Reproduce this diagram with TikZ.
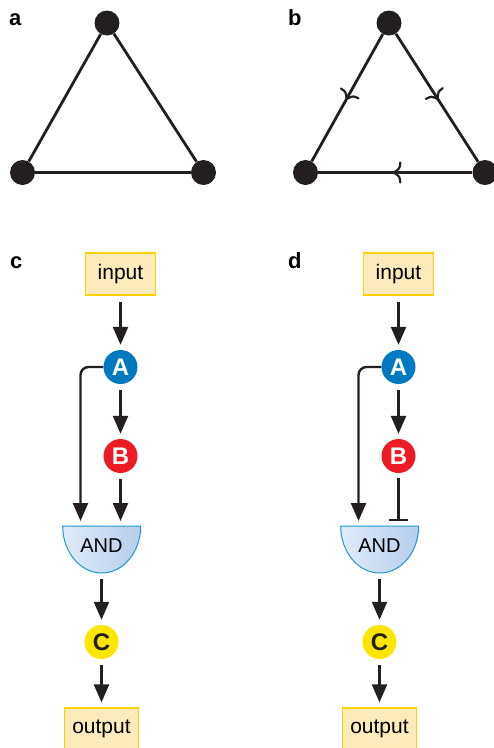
\documentclass[tikz,border=0pt]{standalone}
\usepackage{fontspec}
\setmainfont{Liberation Sans}
\usetikzlibrary{arrows.meta,decorations.markings,backgrounds}

\definecolor{cdark}{RGB}{35, 31, 32}
\definecolor{cblu}{RGB}{0, 121, 193}
\definecolor{cred}{RGB}{237, 28, 36}
\definecolor{cyel}{RGB}{255, 230, 0}
\definecolor{cbox}{RGB}{253, 235, 188}
\definecolor{cboxl}{RGB}{255, 210, 0}
\definecolor{candl}{RGB}{224, 235, 248}
\definecolor{candr}{RGB}{182, 206, 235}
\definecolor{candb}{RGB}{30, 150, 210}

\tikzset{
	dot/.style={circle, fill=cdark, minimum size=25pt, inner sep=0pt},
	edge/.style={cdark, line width=2.8pt},
	midarrow/.style={decoration={markings, mark=at position 0.5 with {
						\draw[cdark, line width=2.2pt, line cap=round] (-5,10) .. controls (-4.5,4) .. (1.5,0) .. controls (-4.5,-4) .. (-5,-10);
					}}, postaction=decorate},
	iobox/.style={draw=cboxl, fill=cbox, line width=1.2pt, minimum width=70pt, minimum height=42pt, inner sep=0pt, font=\fontsize{21}{25}\selectfont},
	gene/.style={circle, minimum size=34pt, inner sep=0pt, font=\fontsize{24}{26}\selectfont\bfseries},
	andgate/.style={minimum width=78pt, minimum height=47pt, text depth=9pt, inner sep=0pt, font=\fontsize{20}{24}\selectfont},
	flow/.style={cdark, line width=2.4pt, -{Triangle[length=18pt,width=15pt]}, shorten <=6pt, shorten >=5pt},
	inhib/.style={cdark, line width=2.4pt, -{Bar[width=19pt]}, shorten <=5pt, shorten >=5pt},
	panel/.style={anchor=base west, inner sep=0pt, font=\fontsize{22}{26}\selectfont\bfseries}
}

\begin{document}
\begin{tikzpicture}[x=1pt,y=1pt]
	\useasboundingbox (0,0) rectangle (494,-748);

	% --- a: plain triangle ---
	\node[panel] (la) at (9,-25) {a};
	\node[dot] (at) at (107,-23) {};
	\node[dot] (abl) at (22.5,-172.5) {};
	\node[dot] (abr) at (203.5,-172.5) {};
	\draw[edge] (at) -- (abl);
	\draw[edge] (at) -- (abr);
	\draw[edge] (abl) -- (abr);

	% --- b: directed triangle ---
	\begin{scope}[xshift=282]
		\node[panel] (lb) at (6,-25) {b};
		\node[dot] (bt) at (107,-23) {};
		\node[dot] (bbl) at (23.5,-172.5) {};
		\node[dot] (bbr) at (203,-172.5) {};
		\draw[edge, midarrow] (bt) -- (bbl);
		\draw[edge, midarrow] (bt) -- (bbr);
		\draw[edge, midarrow] (bbr) -- (bbl);
	\end{scope}

	% --- c, d: circuits ---
	\foreach \dx/\lbl in {0/c,278/d} {
			\begin{scope}[xshift=\dx]
				\node[panel] (l\lbl) at (10,-268) {\lbl};
				\node[iobox] (in\lbl) at (120.5,-274) {input};
				\node[gene, fill=cblu, text=white] (A\lbl) at (120.5,-367) {A};
				\node[gene, fill=cred, text=white] (B\lbl) at (120.5,-456) {B};
				\node[andgate, anchor=north] (and\lbl) at (101.5,-526) {AND};
				\node[gene, fill=cyel, text=cdark] (C\lbl) at (101.5,-642) {C};
				\node[iobox, minimum width=74pt] (out\lbl) at (101.5,-729) {output};

				\begin{scope}[on background layer]
					\shade[left color=candl, right color=candr, draw=candb, line width=1pt]
					(and\lbl.north west) -- (and\lbl.north east)
					arc[start angle=0, end angle=-180, x radius=39, y radius=47] -- cycle;
				\end{scope}

				\draw[flow] (in\lbl) -- (A\lbl);
				\draw[flow] (A\lbl) -- (B\lbl);
				\draw[flow, shorten <=0pt, rounded corners=8pt] (A\lbl.west) -| ([xshift=-21]and\lbl.north);
				\draw[flow] (and\lbl) -- (C\lbl);
				\draw[flow] (C\lbl) -- (out\lbl);
			\end{scope}
		}

	% B acts on AND: activates in c, represses in d
	\draw[flow] (Bc) -- ([xshift=19]andc.north);
	\draw[inhib] (Bd) -- ([xshift=19]andd.north);

\end{tikzpicture}
\end{document}
